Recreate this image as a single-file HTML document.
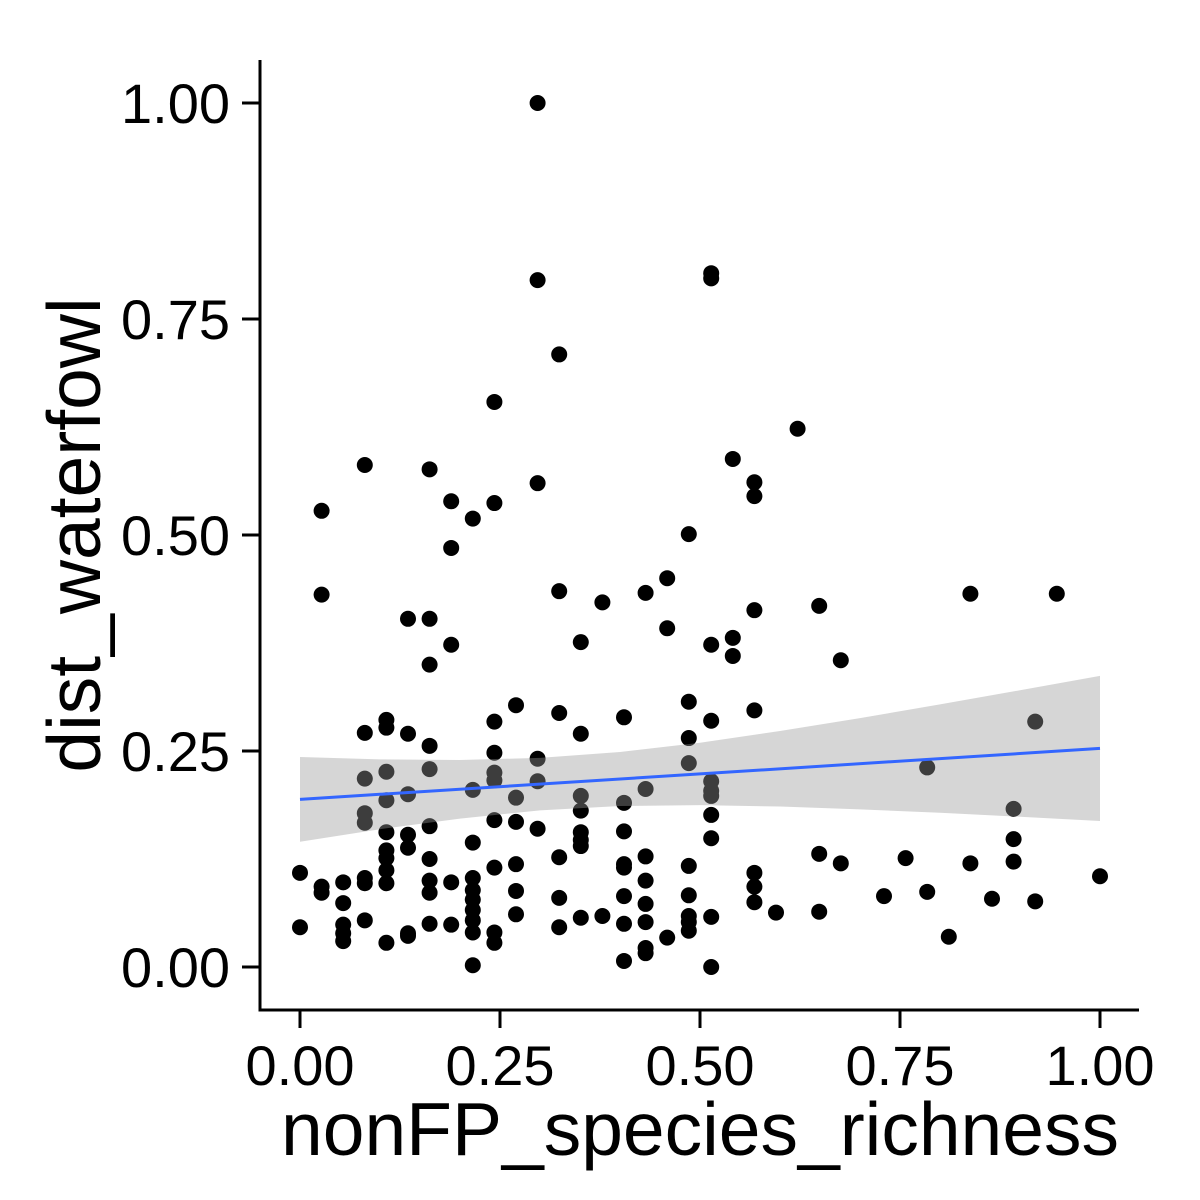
<!DOCTYPE html>
<html><head><meta charset="utf-8"><style>html,body{margin:0;padding:0;background:#fff}svg{display:block}text{font-family:"Liberation Sans",sans-serif;fill:#000}</style></head>
<body>
<svg id="chart" width="1200" height="1200" viewBox="0 0 1200 1200" xmlns="http://www.w3.org/2000/svg">
<g id="points"></g>
<g id="fit"></g>
<g id="axes"></g>
<text x="700" y="1155" font-size="75" text-anchor="middle">nonFP_species_richness</text>
<text transform="translate(100,535) rotate(-90)" font-size="75" text-anchor="middle">dist_waterfowl</text>
</svg>
<script>
const xVals=[0,0,0.027,0.027,0.027,0.027,0.054,0.054,0.054,0.054,0.054,
0.081,0.081,0.081,0.081,0.081,0.081,0.081,0.081,
0.108,0.108,0.108,0.108,0.108,0.108,0.108,0.108,0.108,0.108,
0.135,0.135,0.135,0.135,0.135,0.135,0.135,
0.162,0.162,0.162,0.162,0.162,0.162,0.162,0.162,0.162,0.162,
0.189,0.189,0.189,0.189,0.189,
0.216,0.216,0.216,0.216,0.216,0.216,0.216,0.216,0.216,0.216,
0.243,0.243,0.243,0.243,0.243,0.243,0.243,0.243,0.243,0.243,
0.27,0.27,0.27,0.27,0.27,0.27,
0.297,0.297,0.297,0.297,0.297,0.297,
0.324,0.324,0.324,0.324,0.324,0.324,
0.351,0.351,0.351,0.351,0.351,0.351,0.351,0.351,
0.378,0.378,
0.405,0.405,0.405,0.405,0.405,0.405,0.405,0.405,
0.432,0.432,0.432,0.432,0.432,0.432,0.432,0.432,
0.459,0.459,0.459,
0.486,0.486,0.486,0.486,0.486,0.486,0.486,0.486,0.486,
0.514,0.514,0.514,0.514,0.514,0.514,0.514,0.514,0.514,0.514,0.514,
0.541,0.541,0.541,
0.568,0.568,0.568,0.568,0.568,0.568,0.568,
0.595,0.622,0.649,0.649,0.649,0.676,0.676,0.73,0.757,0.784,0.784,0.811,0.838,0.838,0.865,
0.892,0.892,0.892,0.919,0.919,0.946,1.0];
const yVals=[0.109,0.046,0.093,0.086,0.528,0.431,0.098,0.074,0.049,0.039,0.03,
0.581,0.271,0.218,0.178,0.167,0.103,0.097,0.054,
0.286,0.277,0.226,0.193,0.156,0.135,0.126,0.112,0.097,0.028,
0.403,0.27,0.2,0.153,0.138,0.039,0.036,
0.576,0.403,0.35,0.256,0.229,0.163,0.125,0.1,0.086,0.05,
0.539,0.485,0.373,0.098,0.049,
0.519,0.205,0.144,0.103,0.089,0.078,0.066,0.054,0.04,0.002,
0.537,0.654,0.284,0.248,0.225,0.216,0.17,0.115,0.04,0.028,
0.303,0.196,0.168,0.119,0.088,0.061,
1.0,0.795,0.56,0.241,0.215,0.16,
0.709,0.435,0.294,0.127,0.08,0.046,
0.376,0.27,0.198,0.181,0.156,0.147,0.14,0.057,
0.422,0.059,
0.289,0.19,0.157,0.119,0.115,0.082,0.05,0.007,
0.433,0.206,0.128,0.1,0.073,0.052,0.022,0.016,
0.45,0.392,0.034,
0.501,0.307,0.265,0.236,0.117,0.083,0.059,0.052,0.042,
0.803,0.797,0.373,0.285,0.215,0.204,0.198,0.176,0.149,0.058,0,
0.588,0.381,0.36,
0.561,0.545,0.413,0.297,0.109,0.093,0.075,
0.063,0.623,0.418,0.131,0.064,0.355,0.12,0.082,0.126,0.231,0.087,0.035,0.432,0.12,0.079,
0.183,0.148,0.122,0.284,0.076,0.432,0.105];
const bandX=[0,0.1,0.2,0.3,0.4,0.5,0.6,0.7,0.8,0.9,1.0];
const bandUpper=[0.243,0.2403,0.2396,0.2421,0.2489,0.2596,0.2731,0.2881,0.3039,0.3203,0.337];
const bandLower=[0.145,0.1595,0.1718,0.1813,0.1863,0.1874,0.1857,0.1825,0.1785,0.1739,0.169];
const fitX=[0,1];
const fitY=[0.194,0.253];
const xTicks=[0,0.25,0.5,0.75,1.0];
const xTickLabels=["0.00","0.25","0.50","0.75","1.00"];
const yTicks=[0,0.25,0.5,0.75,1.0];
const yTickLabels=["0.00","0.25","0.50","0.75","1.00"];

const NS="http://www.w3.org/2000/svg";
const sx=v=>300+800*v;
const sy=v=>967-864*v;
function mk(tag,parent){const e=document.createElementNS(NS,tag);parent.appendChild(e);return e;}
const gp=document.getElementById('points');
for(let i=0;i<xVals.length;i++){
  const c=mk('circle',gp);
  
  
  c.setAttribute('cx',sx(xVals[i]));c.setAttribute('cy',sy(yVals[i]));c.setAttribute('r',8);c.setAttribute('fill','#000');
}
const gf=document.getElementById('fit');
let d='';
bandX.forEach((x,i)=>{d+=(i?'L':'M')+sx(x)+','+sy(bandUpper[i]);});
for(let i=bandX.length-1;i>=0;i--)d+='L'+sx(bandX[i])+','+sy(bandLower[i]);
const band=mk('path',gf);


band.setAttribute('d',d+'Z');band.setAttribute('fill','rgb(153,153,153)');band.setAttribute('fill-opacity','0.4');
const ln=mk('line',gf);


ln.setAttribute('x1',sx(fitX[0]));ln.setAttribute('y1',sy(fitY[0]));ln.setAttribute('x2',sx(fitX[1]));ln.setAttribute('y2',sy(fitY[1]));
ln.setAttribute('stroke','#3366FF');ln.setAttribute('stroke-width','3');
const ga=document.getElementById('axes');
const ya=mk('line',ga);


ya.setAttribute('x1',260);ya.setAttribute('y1',60);ya.setAttribute('x2',260);ya.setAttribute('y2',1011.5);ya.setAttribute('stroke','#000');ya.setAttribute('stroke-width','3');
const xa=mk('line',ga);


xa.setAttribute('x1',258.5);xa.setAttribute('y1',1010);xa.setAttribute('x2',1139);xa.setAttribute('y2',1010);xa.setAttribute('stroke','#000');xa.setAttribute('stroke-width','3');
yTicks.forEach((v,i)=>{
  const t=mk('line',ga);
  
  
  t.setAttribute('x1',242);t.setAttribute('x2',260);t.setAttribute('y1',sy(v));t.setAttribute('y2',sy(v));t.setAttribute('stroke','#000');t.setAttribute('stroke-width','3');
  const l=mk('text',ga);
  
  
  l.setAttribute('x',230);l.setAttribute('y',sy(v)+20);l.setAttribute('font-size','56');l.setAttribute('text-anchor','end');l.textContent=yTickLabels[i];
});
xTicks.forEach((v,i)=>{
  const t=mk('line',ga);
  
  
  t.setAttribute('x1',sx(v));t.setAttribute('x2',sx(v));t.setAttribute('y1',1010);t.setAttribute('y2',1028);t.setAttribute('stroke','#000');t.setAttribute('stroke-width','3');
  const l=mk('text',ga);
  
  
  l.setAttribute('x',sx(v));l.setAttribute('y',1085);l.setAttribute('font-size','56');l.setAttribute('text-anchor','middle');l.textContent=xTickLabels[i];
});
</script>
</body></html>
